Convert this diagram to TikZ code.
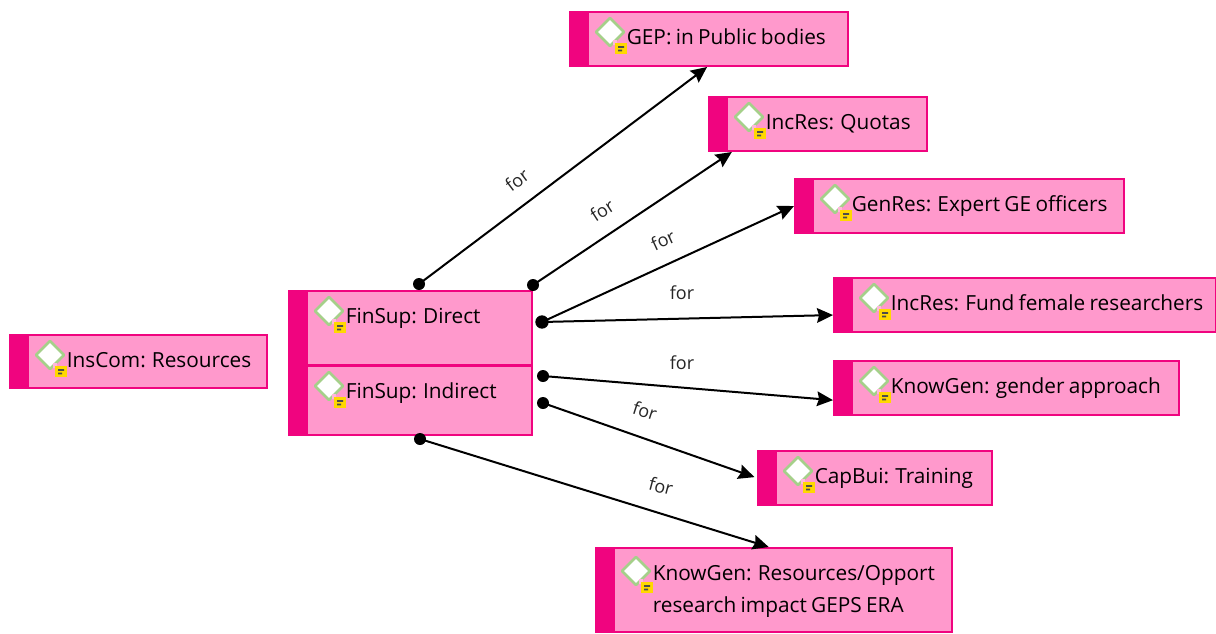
\documentclass[tikz,border=0pt]{standalone}
\usepackage{fontspec}
\setmainfont[WordSpace=0.8]{Open Sans}
\usetikzlibrary{fit,arrows.meta}
\definecolor{boxfill}{HTML}{FF99CC}
\definecolor{boxedge}{HTML}{F0047F}
\definecolor{diaedge}{HTML}{A5D08A}
\definecolor{badge}{HTML}{FFD800}
\tikzset{
  concept/.style={inner sep=0pt,draw=boxedge,fill=boxfill,line width=1.5pt},
  conceptlabel/.style={anchor=base west,inner sep=0pt,font=\fontsize{15.6pt}{20pt}\selectfont,text=black},
  dot/.style={circle,fill=black,inner sep=0pt,minimum size=#1},
  dot/.default=9pt,
  link/.style={draw=black,line width=1.5pt,-{Stealth[length=12pt,width=11pt,inset=1.5pt]}},
  forlabel/.style={inner sep=0pt,font=\fontsize{13.5pt}{16pt}\selectfont,text=black!85}
}
\newcommand{\cbox}[7][0]{%
  \node[concept,fit={(#3,#4)(#5,#6)}] (#2) {};
  \fill[boxedge] (#3,#4) rectangle ({#3+19},#6);
  \begin{scope}[shift={(#3,#4+#1)}]
    \draw[diaedge,fill=white,line width=1.9pt,line join=round] (40,6) -- (54,20) -- (40,34) -- (26,20) -- cycle;
    \fill[boxfill!70!white] (43,28) rectangle (47,33);
    \fill[badge] (45,31) rectangle (57,42);
    \fill[black!70] (48,34) rectangle (54,35.8) (48,37.5) rectangle (52,39.3);
  \end{scope}
  \node[conceptlabel] (#2text) at (#3+56.5,#4+32) {#7};
}
\begin{document}
\begin{tikzpicture}[x=0.75pt,y=-0.75pt]
\useasboundingbox[fill=white] (0,0) rectangle (1216,633);
\cbox{inscom}{10}{335}{267}{388}{InsCom: Resources}
\cbox{direct}{289}{291}{532}{365}{FinSup: Direct}
\cbox{indirect}{289}{366}{532}{435}{FinSup: Indirect}
\cbox{gep}{570}{12}{848}{66}{GEP: in Public bodies}
\cbox{quotas}{709}{97}{927}{151}{IncRes: Quotas}
\cbox{expert}{795}{179}{1124}{233}{GenRes: Expert GE officers}
\cbox{fund}{834}{278}{1215.5}{332}{IncRes: Fund female researchers}
\cbox{gender}{834}{361}{1179}{415}{KnowGen: gender approach}
\cbox{training}{758}{451}{992}{505}{CapBui: Training}
\cbox[3]{opport}{596}{548}{952}{632}{\begin{tabular}[t]{@{}l@{}}KnowGen: Resources/Opport\\[4pt]research impact GEPS ERA\end{tabular}}
\node[dot] (d1) at (419,284) {};
\node[dot] (d2) at (533,285) {};
\node[dot=10pt] (d3) at (542,322) {};
\node[dot] (d4) at (543,376) {};
\node[dot] (d5) at (543,403) {};
\node[dot] (d6) at (420,439) {};
\draw[link] (d1.center) -- (gep.266);
\draw[link] (d2.center) -- (quotas.198.5);
\draw[link] (d3.center) -- (expert.west);
\draw[link] (d3.center) -- (fund.183);
\draw[link] (d4.center) -- (gender.184);
\draw[link,shorten >=2pt] (d5.center) -- (training.west);
\draw[link] (d6.center) -- (opport.97);
\node[forlabel,rotate=37] (f1) at (517,180) {for};
\node[forlabel,rotate=33] (f2) at (602,210) {for};
\node[forlabel,rotate=25] (f3) at (663,240) {for};
\node[forlabel] (f4) at (682,293) {for};
\node[forlabel] (f5) at (682,363) {for};
\node[forlabel,rotate=-18] (f6) at (645,411) {for};
\node[forlabel,rotate=-15] (f7) at (661,486) {for};
\end{tikzpicture}
\end{document}
